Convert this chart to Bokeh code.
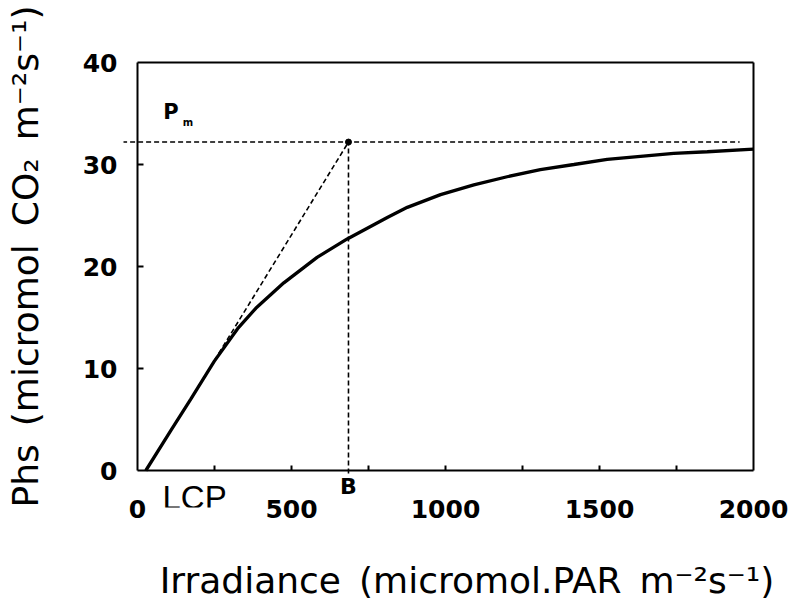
from bokeh.plotting import figure
from bokeh.models import FixedTicker
from bokeh.embed import file_html
from bokeh.resources import INLINE
from bokeh.core.properties import value

# ---- data ----
irradiance = [27, 108, 173, 249, 325, 384, 475, 583, 681, 811, 876, 984, 1092,
              1200, 1308, 1417, 1525, 1633, 1741, 1850, 2000]
photosynthesis = [0, 3.9, 7.0, 10.7, 13.9, 15.9, 18.4, 20.9, 22.7, 24.8, 25.8,
                  27.05, 28.0, 28.8, 29.5, 30.0, 30.5, 30.8, 31.1, 31.25, 31.5]
pm_value = 32.2            # P max
b_value = 685              # B (irradiance where initial slope reaches Pm)
lcp_value = 27             # light compensation point
slope_start = [250, 10.8]  # where the dashed initial-slope line leaves the curve
pm_line_x = [-50, 1955]    # extent of the dashed Pm line
x_ticks = [0, 500, 1000, 1500, 2000]
x_minor = [250, 750, 1250, 1750]
y_ticks = [0, 10, 20, 30, 40]

# ---- layout (pixels -> data: 0.308 px per x unit, 10.2 px per y unit) ----
XPX, YPX = 0.308, 10.2
x_lo, x_hi = x_ticks[0], x_ticks[-1]
y_lo, y_hi = y_ticks[0], y_ticks[-1]

p = figure(width=795, height=610,
           x_range=(x_lo - 14 / XPX, x_hi + 3 / XPX),
           y_range=(y_lo - 37 / YPX, y_hi + 3 / YPX),
           output_backend="svg", toolbar_location=None,
           min_border_left=123, min_border_right=39,
           min_border_top=59, min_border_bottom=103)
p.background_fill_color = "white"
p.border_fill_color = "white"
p.xgrid.visible = False
p.ygrid.visible = False
p.outline_line_color = None

# Bokeh axes carry the tick labels and titles; their lines are drawn below
for ax in (p.xaxis[0], p.yaxis[0]):
    ax.axis_line_color = None
    ax.major_tick_line_color = None
    ax.minor_tick_line_color = None
    ax.major_tick_in = 0
    ax.major_tick_out = 0
    ax.minor_tick_in = 0
    ax.minor_tick_out = 0
    ax.major_label_text_font = "DejaVu Sans"
    ax.major_label_text_font_style = "bold"
    ax.major_label_text_font_size = "25px"
    ax.major_label_text_color = "black"
    ax.axis_label_text_font = "DejaVu Sans"
    ax.axis_label_text_font_style = "normal"
    ax.axis_label_text_font_size = "36px"
    ax.axis_label_text_color = "black"

p.xaxis.ticker = FixedTicker(ticks=x_ticks, minor_ticks=[])
p.yaxis.ticker = FixedTicker(ticks=y_ticks, minor_ticks=[])
p.xaxis.major_label_standoff = -8
p.yaxis.major_label_standoff = 6
sp = "\u2002"
lead = "\u2003\u2002"
p.xaxis.axis_label = lead + "Irradiance" + sp + "(micromol.PAR" + sp + "m\u207b\u00b2s\u207b\u00b9)"
p.yaxis.axis_label = lead + "Phs" + sp + "(micromol" + sp + "CO\u2082" + sp + "m\u207b\u00b2s\u207b\u00b9)"
p.xaxis.axis_label_standoff = 39
p.yaxis.axis_label_standoff = 34

# frame / axis lines
frame = dict(line_color="black", line_width=2)
p.line([x_lo, x_hi], [y_lo, y_lo], **frame)
p.line([x_lo, x_hi], [y_hi, y_hi], **frame)
p.line([x_lo, x_lo], [y_lo, y_hi], **frame)
p.line([x_hi, x_hi], [y_lo, y_hi], **frame)

# inward tick marks
xt = [t for t in sorted(x_ticks + x_minor) if x_lo < t < x_hi]
yt = [t for t in y_ticks if y_lo < t < y_hi]
p.segment(x0=xt, y0=[y_lo] * len(xt), x1=xt, y1=[y_lo + 5 / YPX] * len(xt),
          line_color="black", line_width=2)
p.segment(x0=[x_lo] * len(yt), y0=yt, x1=[x_lo + 6 / XPX] * len(yt), y1=yt,
          line_color="black", line_width=2)

# dashed construction lines
dash = dict(line_color="black", line_width=1.6, line_dash="5 3")
p.line(pm_line_x, [pm_value, pm_value], **dash)
p.line([b_value, b_value], [y_lo - 0.3, pm_value], **dash)
p.line([slope_start[0], b_value], [slope_start[1], pm_value], **dash)
p.scatter([b_value], [pm_value], size=6, color="black")

# light response curve
p.line(irradiance, photosynthesis, line_color="black", line_width=3.3)

# annotations
p.text(x=[84], y=[35.1], text=["P"], text_font=value("DejaVu Sans"),
       text_font_style="bold", text_font_size="21px",
       text_baseline="alphabetic", text_color="black")
p.text(x=[147], y=[34.1], text=["m"], text_font=value("DejaVu Sans"),
       text_font_style="bold", text_font_size="10px",
       text_baseline="alphabetic", text_color="black")
p.text(x=[lcp_value + 54], y=[y_lo - 27 / YPX], text=["LCP"],
       text_font=value("Liberation Sans"), text_font_size="33px",
       text_baseline="alphabetic", text_color="black")
p.text(x=[b_value], y=[y_lo - 16 / YPX], text=["B"],
       text_font=value("DejaVu Sans"), text_font_style="bold",
       text_font_size="22px", text_align="center",
       text_baseline="alphabetic", text_color="black")

open("out.html", "w").write(file_html(p, INLINE))
